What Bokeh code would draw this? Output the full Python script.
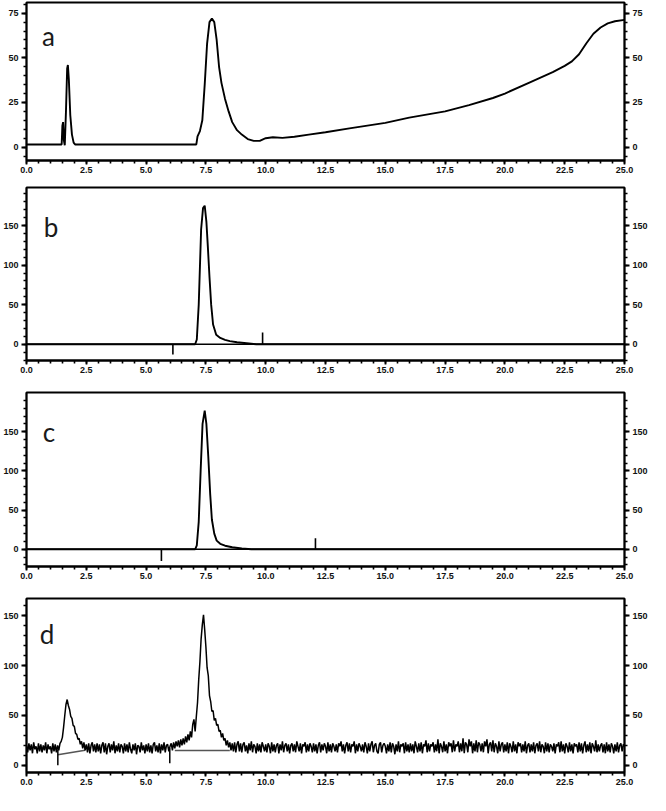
import numpy as np
from bokeh.plotting import figure
from bokeh.models import Range1d, FixedTicker, LinearAxis, NumeralTickFormatter
from bokeh.layouts import column
from bokeh.embed import file_html
from bokeh.resources import INLINE
from bokeh.core.properties import value

# ---------------- data ----------------
panel_letters = ["a", "b", "c", "d"]

x_major_ticks = [0.0, 2.5, 5.0, 7.5, 10.0, 12.5, 15.0, 17.5, 20.0, 22.5, 25.0]

# panel a : time (min) / signal
a_time = [0.0, 1.47, 1.50, 1.53, 1.56, 1.60, 1.65, 1.70, 1.73, 1.77, 1.83, 1.90, 1.97, 2.03,
          7.10, 7.15, 7.25, 7.35, 7.45, 7.55, 7.65, 7.75, 7.85, 7.95, 8.05, 8.15, 8.30, 8.45,
          8.60, 8.80, 9.00, 9.25, 9.50, 9.75, 10.00, 10.30, 10.70, 11.20, 11.80, 12.50, 13.50,
          15.00, 16.00, 17.50, 18.50, 19.50, 20.00, 21.00, 22.00, 22.50, 22.80, 23.10, 23.40,
          23.70, 24.00, 24.30, 24.60, 25.00]
a_signal = [1.5, 1.5, 12, 14, 4, 1, 20, 44, 46, 38, 18, 7, 2.5, 1.5,
            1.5, 6, 9, 15, 35, 58, 70, 72, 70, 60, 45, 36, 27, 20,
            14, 9.5, 7, 4.5, 3.5, 3.5, 5, 5.5, 5.2, 5.8, 7, 8.3, 10.5,
            13.6, 16.5, 20, 23.5, 27.5, 30, 36, 42, 45.5, 48, 52, 58,
            63.5, 67, 69.3, 70.5, 71.3]

# panel b
b_time = [0.0, 7.05, 7.12, 7.20, 7.30, 7.38, 7.45, 7.52, 7.58, 7.65, 7.72, 7.80, 7.93, 8.10,
          8.30, 8.50, 8.80, 9.30, 9.60, 25.0]
b_signal = [0, 0, 6, 50, 145, 172, 175, 155, 124, 85, 50, 25, 12, 8, 5.5, 4, 2.5, 1, 0, 0]
b_marks_time = [6.12, 9.87]
b_marks_level = [-13, 15]

# panel c
c_time = [0.0, 7.05, 7.12, 7.20, 7.28, 7.36, 7.45, 7.52, 7.60, 7.68, 7.75, 7.85, 7.95, 8.10,
          8.30, 8.60, 9.00, 9.40, 25.0]
c_signal = [0, 0, 5, 35, 100, 160, 177, 160, 118, 70, 38, 20, 11, 7, 4.5, 2.5, 1, 0, 0]
c_marks_time = [5.64, 12.08]
c_marks_level = [-15, 14]

# panel d : noisy trace sampled every 0.05 min (rows = 1 min)
d_rows = [
    [20, 13, 22, 15, 21, 12, 23, 16, 19, 12, 22, 14, 21, 13, 20, 15, 23, 12, 21, 16],
    [19, 12, 22, 14, 21, 13, 20, 15, 22, 24, 28, 38, 50, 61, 66, 60, 56, 49, 47, 40],
    [39, 32, 31, 26, 27, 21, 24, 17, 23, 15, 21, 13, 22, 12, 20, 23, 14, 21, 13, 22],
    [14, 21, 12, 20, 23, 13, 22, 11, 19, 22, 13, 21, 15, 24, 12, 20, 14, 22, 13, 21],
    [19, 12, 22, 14, 21, 13, 23, 16, 12, 21, 15, 22, 11, 20, 19, 13, 23, 15, 20, 12],
    [21, 14, 22, 13, 20, 12, 21, 23, 14, 20, 13, 22, 12, 21, 15, 23, 13, 20, 21, 14],
    [19, 22, 15, 23, 17, 24, 19, 25, 18, 26, 20, 27, 21, 29, 23, 31, 25, 34, 28, 41],
    [46, 34, 49, 63, 86, 104, 127, 141, 151, 136, 119, 98, 90, 70, 64, 54, 55, 45, 47, 40],
    [41, 34, 35, 28, 32, 25, 27, 20, 25, 18, 23, 15, 22, 14, 23, 13, 21, 24, 14, 22],
    [13, 21, 23, 14, 20, 12, 22, 15, 24, 13, 21, 19, 12, 22, 14, 21, 13, 23, 19, 14],
    [21, 13, 22, 19, 12, 23, 14, 21, 13, 20, 22, 12, 21, 15, 24, 13, 20, 22, 14, 21],
    [12, 20, 22, 14, 21, 13, 24, 19, 14, 22, 12, 21, 19, 23, 13, 21, 14, 22, 19, 13],
    [22, 14, 21, 12, 20, 23, 13, 21, 15, 22, 19, 12, 23, 14, 21, 13, 22, 19, 14, 21],
    [13, 22, 19, 24, 14, 21, 12, 20, 23, 14, 22, 13, 21, 19, 24, 12, 21, 14, 22, 19],
    [14, 21, 13, 23, 19, 12, 22, 14, 21, 24, 13, 20, 22, 14, 12, 21, 23, 13, 20, 22],
    [19, 12, 21, 14, 23, 13, 22, 19, 11, 21, 14, 24, 13, 21, 19, 22, 12, 23, 14, 21],
    [13, 22, 14, 21, 12, 24, 19, 13, 22, 14, 23, 12, 21, 19, 25, 13, 22, 14, 21, 19],
    [23, 13, 21, 14, 26, 12, 22, 19, 13, 24, 14, 21, 12, 23, 19, 22, 13, 25, 14, 21],
    [19, 24, 13, 22, 14, 27, 12, 23, 21, 13, 26, 19, 24, 12, 22, 14, 25, 13, 23, 21],
    [14, 22, 13, 24, 19, 26, 12, 21, 23, 14, 25, 13, 22, 19, 12, 24, 14, 21, 23, 13],
    [21, 14, 23, 12, 22, 19, 13, 24, 14, 21, 12, 23, 19, 22, 13, 21, 14, 24, 12, 20],
    [22, 13, 21, 14, 23, 12, 20, 22, 14, 24, 13, 21, 19, 12, 23, 14, 22, 13, 21, 19],
    [14, 22, 12, 21, 19, 23, 13, 24, 14, 21, 12, 22, 19, 13, 23, 14, 21, 12, 22, 19],
    [21, 13, 23, 14, 22, 12, 20, 24, 13, 21, 14, 23, 12, 22, 19, 14, 25, 13, 21, 14],
    [20, 22, 13, 21, 12, 23, 14, 21, 13, 22, 19, 12, 21, 14, 23, 13, 20, 22, 14, 21],
    [19],
]
d_signal = [v for row in d_rows for v in row]
d_time = [round(i * 0.05, 2) for i in range(len(d_signal))]
d_marks_time = [1.31, 5.99]
d_marks_top = [15.5, 17]
d_marks_bottom = [0, 2]
d_base1_time = [1.31, 2.45]
d_base1_level = [10.5, 15]
d_base2_time = [6.2, 8.5]
d_base2_level = [14.8, 14.8]

# y axis settings per panel
a_yticks = [0, 25, 50, 75]
bc_yticks = [0, 50, 100, 150]
d_yticks = [0, 50, 100, 150]

# ---------------- styling helpers ----------------
W = 650
TICK_FONT = "Liberation Sans"


def style_axis(ax, ticks, minor):
    ax.ticker = FixedTicker(ticks=ticks, minor_ticks=minor)
    ax.axis_line_color = "black"
    ax.axis_line_width = 1.8
    ax.major_tick_line_color = "black"
    ax.minor_tick_line_color = "black"
    ax.major_tick_line_width = 1.8
    ax.minor_tick_line_width = 1.6
    ax.major_tick_out = 5
    ax.major_tick_in = 0
    ax.minor_tick_out = 3
    ax.minor_tick_in = 0
    ax.major_label_text_font = TICK_FONT
    ax.major_label_text_font_style = "bold"
    ax.major_label_text_font_size = "9px"
    ax.major_label_text_color = "#111111"
    ax.major_label_standoff = 3


def make_panel(height, top_border, yr, yticks, yminor, letter, lx, ly):
    p = figure(width=W, height=height, output_backend="svg", toolbar_location=None,
               x_range=Range1d(0, 25), y_range=Range1d(*yr),
               min_border_left=22, min_border_right=24,
               min_border_top=top_border, min_border_bottom=19)
    p.grid.visible = False
    p.outline_line_color = "black"
    p.outline_line_width = 1.8
    p.background_fill_color = "white"
    p.border_fill_color = "white"
    xminor = [round(i * 0.5, 1) for i in range(51)]
    style_axis(p.xaxis[0], x_major_ticks, xminor)
    p.xaxis[0].formatter = NumeralTickFormatter(format="0.0")
    p.xaxis[0].major_tick_out = 4
    p.xaxis[0].minor_tick_out = 3
    p.xaxis[0].major_label_standoff = 2
    style_axis(p.yaxis[0], yticks, yminor)
    right = LinearAxis()
    style_axis(right, yticks, yminor)
    p.add_layout(right, "right")
    p.text(x=[lx], y=[ly], text=[letter], text_font=value("Lato"),
           text_font_size="26px", text_color="#1a1a1a",
           text_align="left", text_baseline="alphabetic")
    return p


# panel a
pa = make_panel(179, 2, (-7.5, 81), a_yticks, list(range(-5, 81, 5)), panel_letters[0], 0.65, 62)
pa.line(a_time, a_signal, line_color="black", line_width=1.9)

# panel b
pb = make_panel(200, 8, (-20.5, 198), bc_yticks, list(range(-20, 200, 10)), panel_letters[1], 0.72, 148)
pb.line([0, 25], [0, 0], line_color="black", line_width=1.6)
pb.line(b_time, b_signal, line_color="black", line_width=1.9)
pb.segment(x0=b_marks_time, y0=[0] * len(b_marks_time), x1=b_marks_time, y1=b_marks_level,
           line_color="black", line_width=1.6)

# panel c
pc = make_panel(206, 13, (-22, 200), bc_yticks, list(range(-20, 200, 10)), panel_letters[2], 0.68, 149)
pc.line([0, 25], [0, 0], line_color="black", line_width=1.6)
pc.line(c_time, c_signal, line_color="black", line_width=1.9)
pc.segment(x0=c_marks_time, y0=[0] * len(c_marks_time), x1=c_marks_time, y1=c_marks_level,
           line_color="black", line_width=1.6)

# panel d
pd_ = make_panel(206, 13, (-7.3, 167.5), d_yticks, list(range(0, 170, 10)), panel_letters[3], 0.55, 132)
pd_.line(d_base1_time, d_base1_level, line_color="#555555", line_width=1.5)
pd_.line(d_base2_time, d_base2_level, line_color="#555555", line_width=1.5)
pd_.line(d_time, d_signal, line_color="black", line_width=1.5)
pd_.segment(x0=d_marks_time, y0=d_marks_top, x1=d_marks_time, y1=d_marks_bottom,
            line_color="black", line_width=1.5)

layout = column(pa, pb, pc, pd_, spacing=0)

open("out.html", "w").write(file_html(layout, INLINE))
